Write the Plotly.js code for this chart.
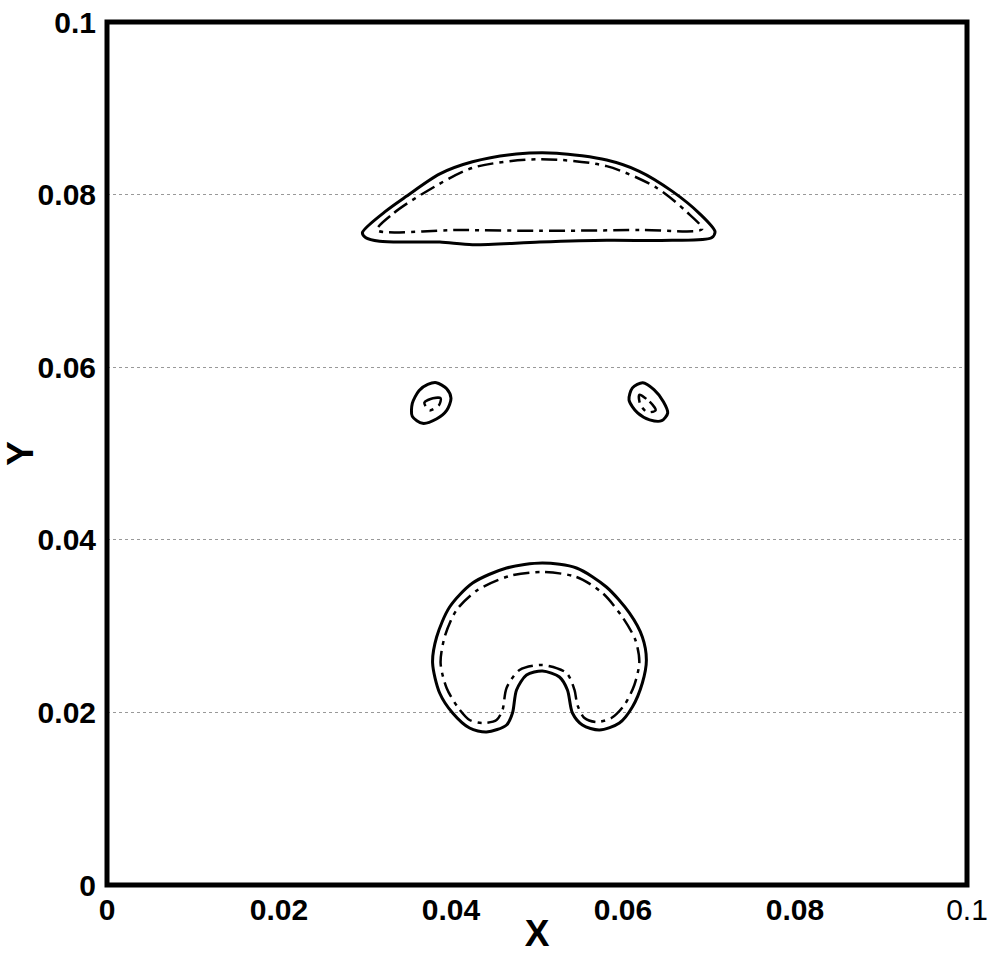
<!DOCTYPE html>
<html>
<head>
<meta charset="utf-8">
<script src="https://cdn.plot.ly/plotly-3.0.1.min.js"></script>
<style>html,body{margin:0;padding:0;background:#fff;}#chart{width:992px;height:954px;}</style>
</head>
<body>
<div id="chart"></div>
<script>
// Tick values and labels
var xTickVals = [0, 0.02, 0.04, 0.06, 0.08, 0.1];
var xTickText = ["<b>0</b>", "<b>0.02</b>", "<b>0.04</b>", "<b>0.06</b>", "<b>0.08</b>", "0.1"];
var yTickVals = [0, 0.02, 0.04, 0.06, 0.08, 0.1];
var yTickText = ["<b>0</b>", "<b>0.02</b>", "<b>0.04</b>", "<b>0.06</b>", "<b>0.08</b>", "<b>0.1</b>"];

// Upper cap - solid contour
var capSolidX = [0.0297, 0.0323, 0.0348, 0.0387, 0.0425, 0.0476, 0.0523, 0.0581, 0.0619, 0.0657, 0.0689, 0.0707, 0.0703, 0.0657, 0.0581, 0.0503, 0.0425, 0.0387, 0.0348, 0.0317, 0.0301, 0.0297];
var capSolidY = [0.0756, 0.0780, 0.0798, 0.0824, 0.0838, 0.0847, 0.0848, 0.0840, 0.0827, 0.0804, 0.0778, 0.0757, 0.0750, 0.0747, 0.0747, 0.0745, 0.0742, 0.0745, 0.0745, 0.0746, 0.0750, 0.0756];
// Upper cap - dash-dot contour
var capDashX = [0.0314, 0.0334, 0.0367, 0.0425, 0.0503, 0.0581, 0.0639, 0.0674, 0.0692, 0.0620, 0.0503, 0.0410, 0.0314];
var capDashY = [0.0759, 0.0779, 0.0801, 0.0831, 0.0841, 0.0833, 0.0808, 0.0780, 0.0760, 0.0759, 0.0758, 0.0759, 0.0759];

// Left droplet
var dropLSolidX = [0.0383, 0.0395, 0.0400, 0.0395, 0.0383, 0.0367, 0.0355, 0.0355, 0.0363, 0.0373, 0.0383];
var dropLSolidY = [0.0582, 0.0575, 0.0564, 0.0550, 0.0540, 0.0535, 0.0543, 0.0558, 0.0573, 0.0580, 0.0582];
var dropLDashX = [0.0369, 0.0379, 0.0388, 0.0386, 0.0375, 0.0369];
var dropLDashY = [0.0559, 0.0564, 0.0564, 0.0556, 0.0550, 0.0559];

// Right droplet
var dropRSolidX = [0.0623, 0.0636, 0.0647, 0.0652, 0.0645, 0.0631, 0.0617, 0.0607, 0.0611, 0.0623];
var dropRSolidY = [0.0582, 0.0574, 0.0560, 0.0547, 0.0538, 0.0539, 0.0547, 0.0562, 0.0576, 0.0582];
var dropRDashX = [0.0619, 0.0631, 0.0638, 0.0628, 0.0620, 0.0619];
var dropRDashY = [0.0568, 0.0560, 0.0550, 0.0548, 0.0557, 0.0568];

// Lower horseshoe - solid contour
var shoeSolidX = [0.05064, 0.05459, 0.05807, 0.06074, 0.06225, 0.06272, 0.06225, 0.06109, 0.05958, 0.05726, 0.05528, 0.05412, 0.05354, 0.05261, 0.05064, 0.04878, 0.04762, 0.04715, 0.04646, 0.04413, 0.04216, 0.04019, 0.03868, 0.03786, 0.03833, 0.03984, 0.04251, 0.04646, 0.05064];
var shoeSolidY = [0.03731, 0.03673, 0.03453, 0.03152, 0.02874, 0.02607, 0.02341, 0.02063, 0.01877, 0.01796, 0.01854, 0.01993, 0.02260, 0.02410, 0.02480, 0.02433, 0.02260, 0.01993, 0.01854, 0.01773, 0.01819, 0.01993, 0.02225, 0.02572, 0.02874, 0.03221, 0.03499, 0.03673, 0.03731];
// Lower horseshoe - dash-dot contour
var shoeDashX = [0.05064, 0.05459, 0.05761, 0.05993, 0.06144, 0.06190, 0.06132, 0.06016, 0.05865, 0.05691, 0.05552, 0.05470, 0.05436, 0.05343, 0.05064, 0.04797, 0.04646, 0.04599, 0.04530, 0.04367, 0.04216, 0.04077, 0.03949, 0.03879, 0.03926, 0.04065, 0.04309, 0.04681, 0.05064];
var shoeDashY = [0.03627, 0.03569, 0.03384, 0.03105, 0.02839, 0.02584, 0.02318, 0.02086, 0.01935, 0.01889, 0.01935, 0.02086, 0.02260, 0.02457, 0.02549, 0.02491, 0.02283, 0.02028, 0.01912, 0.01877, 0.01912, 0.02063, 0.02283, 0.02572, 0.02874, 0.03187, 0.03418, 0.03581, 0.03627];

var solidLine = {color: '#000', width: 3, shape: 'spline', smoothing: 0.8};
var dashLine = {color: '#000', width: 2.5, shape: 'spline', smoothing: 0.8, dash: '16px,6px,4px,6px'};

function tr(x, y, line) {
  return {x: x, y: y, mode: 'lines', type: 'scatter', line: line, hoverinfo: 'skip', showlegend: false};
}

var data = [
  tr(capSolidX, capSolidY, solidLine),
  tr(capDashX, capDashY, dashLine),
  tr(dropLSolidX, dropLSolidY, solidLine),
  tr(dropLDashX, dropLDashY, dashLine),
  tr(dropRSolidX, dropRSolidY, solidLine),
  tr(dropRDashX, dropRDashY, dashLine),
  tr(shoeSolidX, shoeSolidY, solidLine),
  tr(shoeDashX, shoeDashY, dashLine)
];

var tickFont = {family: 'Liberation Sans, Arial, sans-serif', size: 30, color: '#000'};
var titleFont = {family: 'Liberation Sans, Arial, sans-serif', size: 37, color: '#000', weight: 'bold'};

var layout = {
  width: 992, height: 954,
  margin: {l: 107, r: 25, t: 22, b: 69, pad: 0},
  paper_bgcolor: '#fff', plot_bgcolor: '#fff',
  showlegend: false,
  xaxis: {
    range: [0, 0.1], tickmode: 'array', tickvals: xTickVals, ticktext: xTickText,
    showgrid: false, zeroline: false, showline: false, ticks: '',
    tickfont: tickFont, ticklabelstandoff: 4,
    title: {text: '<b>X</b>', font: titleFont, standoff: 0}
  },
  yaxis: {
    range: [0, 0.1], tickmode: 'array', tickvals: yTickVals, ticktext: yTickText,
    showgrid: true, gridcolor: '#999', gridwidth: 1, griddash: 'dot',
    zeroline: false, showline: false, ticks: '',
    tickfont: tickFont, ticklabelstandoff: 10,
    title: {text: '<b>Y</b>', font: titleFont, standoff: 4}
  },
  shapes: [{
    type: 'rect', xref: 'paper', yref: 'paper', x0: 0, x1: 1, y0: 0, y1: 1,
    line: {color: '#000', width: 5}, fillcolor: 'rgba(0,0,0,0)', layer: 'above'
  }]
};

Plotly.newPlot('chart', data, layout, {staticPlot: true, displayModeBar: false});
</script>
</body>
</html>
